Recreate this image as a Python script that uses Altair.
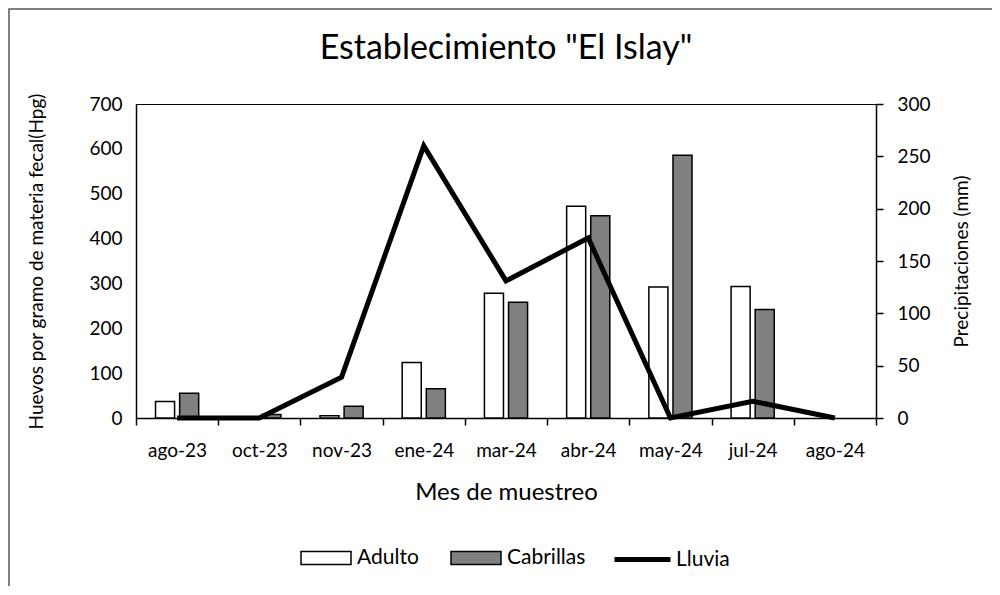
import altair as alt
import pandas as pd

# ---- data ----
meses = ["ago-23", "oct-23", "nov-23", "ene-24", "mar-24", "abr-24", "may-24", "jul-24", "ago-24"]
adulto = [37, 2, 5, 124, 278, 472, 292, 293, 0]
cabrillas = [55, 8, 26, 65, 258, 451, 586, 242, 0]
lluvia = [0, 0, 39, 260, 131, 172, 0, 16, 0]

series_bar = ["Adulto", "Cabrillas"]
series_line = ["Lluvia"]
y_left_ticks = [0, 100, 200, 300, 400, 500, 600, 700]
y_right_ticks = [0, 50, 100, 150, 200, 250, 300]

FONT = "Lato"

bars_df = pd.DataFrame({
    "mes": meses * 2,
    "serie": ["Adulto"] * len(meses) + ["Cabrillas"] * len(meses),
    "hpg": adulto + cabrillas,
})
rain_df = pd.DataFrame({"mes": meses, "serie": ["Lluvia"] * len(meses), "mm": lluvia})

x_enc = alt.X(
    "mes:N",
    sort=meses,
    scale=alt.Scale(domain=meses, paddingInner=0, paddingOuter=0),
    axis=alt.Axis(
        title="Mes de muestreo",
        labelAngle=0,
        tickBand="extent",
        tickSize=7,
        labelPadding=16,
        labelFontSize=19,
        titleFontSize=24,
        titlePadding=20,
        domain=True,
    ),
)

frame = alt.Chart(pd.DataFrame({"k": [0]})).mark_rect(
    fillOpacity=0, stroke="#555555", strokeWidth=1.5
).encode(
    x=alt.value(-127), x2=alt.value(950), y=alt.value(-95), y2=alt.value(520)
)

bars = alt.Chart(bars_df).transform_filter("datum.hpg > 0").mark_bar(
    stroke="black", strokeWidth=1.5
).encode(
    x=x_enc,
    xOffset=alt.XOffset(
        "serie:N", sort=series_bar,
        scale=alt.Scale(domain=series_bar, paddingInner=0.21, paddingOuter=0.81),
    ),
    y=alt.Y(
        "hpg:Q",
        scale=alt.Scale(domain=[0, 700], nice=False),
        axis=alt.Axis(
            orient="left",
            values=y_left_ticks,
            title="Huevos por gramo de materia fecal(Hpg)",
            ticks=False,
            labelPadding=14,
            labelFontSize=19,
            titleFontSize=19,
            titlePadding=42,
        ),
    ),
    fill=alt.Fill(
        "serie:N",
        scale=alt.Scale(domain=series_bar, range=["white", "#808080"]),
        legend=alt.Legend(
            title=None,
            orient="none",
            direction="horizontal",
            legendX=164,
            legendY=428,
            symbolType="M-1,-0.26H1V0.26H-1Z",
            symbolSize=2500,
            symbolStrokeColor="black",
            symbolStrokeWidth=1.5,
            symbolOpacity=1,
            labelFontSize=21,
            labelOffset=5,
            columnPadding=29,
            padding=0,
        ),
    ),
)

line = alt.Chart(rain_df).mark_line(strokeWidth=5).encode(
    x=x_enc,
    y=alt.Y(
        "mm:Q",
        scale=alt.Scale(domain=[0, 300], nice=False),
        axis=alt.Axis(
            orient="right",
            values=y_right_ticks,
            title="Precipitaciones (mm)",
            tickSize=7,
            labelPadding=14,
            labelFontSize=19,
            titleFontSize=19,
            titleAngle=270,
            titleBaseline="top",
            titlePadding=22,
        ),
    ),
    stroke=alt.Stroke(
        "serie:N",
        scale=alt.Scale(domain=series_line, range=["black"]),
        legend=alt.Legend(
            title=None,
            orient="none",
            direction="horizontal",
            legendX=476,
            legendY=425,
            symbolType="stroke",
            symbolSize=3136,
            symbolStrokeWidth=5,
            labelFontSize=21,
            labelOffset=3,
            padding=0,
        ),
    ),
)

chart = alt.layer(frame, bars, line).resolve_scale(
    y="independent"
).properties(
    width=740,
    height=314,
    padding={"left": 128, "top": 96, "right": 116, "bottom": 168},
    autosize=alt.AutoSizeParams(type="none"),
    title=alt.TitleParams(
        'Establecimiento "El Islay"',
        font=FONT,
        fontSize=34,
        fontWeight="normal",
        color="black",
        anchor="middle",
        frame="group",
        baseline="alphabetic",
        offset=-85,
    ),
).configure(
    font=FONT,
).configure_view(
    stroke="black", strokeWidth=1
).configure_axis(
    grid=False,
    domainColor="black",
    domainWidth=1.5,
    tickColor="black",
    tickWidth=1.5,
    labelColor="black",
    titleColor="black",
    labelFont=FONT,
    titleFont=FONT,
    titleFontWeight="normal",
).configure_legend(
    labelColor="black",
    labelFont=FONT,
)

chart.save("out.html", embed_options={"renderer": "svg", "actions": False})
